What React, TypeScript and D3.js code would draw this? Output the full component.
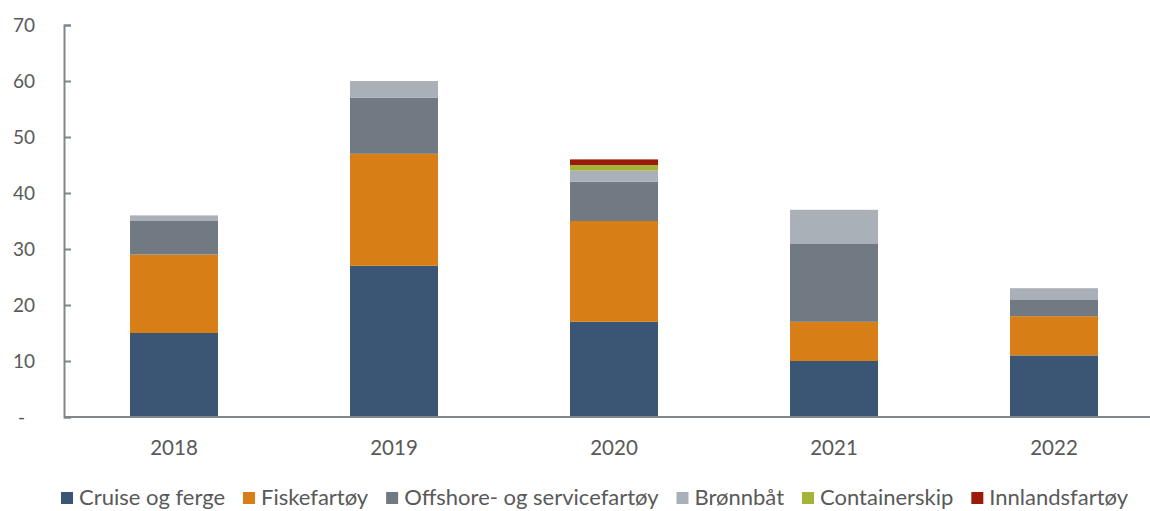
import { useEffect, useRef } from 'react';
import * as d3 from 'd3';

const years = ['2018', '2019', '2020', '2021', '2022'];
const seriesNames = [
  'Cruise og ferge',
  'Fiskefartøy',
  'Offshore- og servicefartøy',
  'Brønnbåt',
  'Containerskip',
  'Innlandsfartøy',
];
const cruise = [15, 27, 17, 10, 11];
const fiske = [14, 20, 18, 7, 7];
const offshore = [6, 10, 7, 14, 3];
const bronnbat = [1, 3, 2, 6, 2];
const container = [0, 0, 1, 0, 0];
const innland = [0, 0, 1, 0, 0];
const yTicks = [0, 10, 20, 30, 40, 50, 60, 70];
const colors = ['#3a5674', '#d77e17', '#717a82', '#a9b0b7', '#a5b33b', '#9b1b0b'];

export default function App() {
  const ref = useRef<SVGSVGElement>(null);

  useEffect(() => {
    const svg = d3.select(ref.current);
    svg.selectAll('*').remove();

    const width = 1150;
    const font = 'Lato, "Open Sans", sans-serif';
    const textColor = '#595959';
    const axisColor = '#7f868c';

    const series = [cruise, fiske, offshore, bronnbat, container, innland];
    const rows = years.map((year, i) => {
      const row: Record<string, number | string> = { year };
      seriesNames.forEach((name, k) => (row[name] = series[k][i]));
      return row;
    });
    const stacked = d3.stack<any>().keys(seriesNames)(rows);

    const x = d3.scaleBand().domain(years).range([64, 1164]).paddingInner(0.6).paddingOuter(0.3);
    const y = d3.scaleLinear().domain([0, 70]).range([417, 25]);

    const g = svg.append('g');

    // bars
    stacked.forEach((layer, k) => {
      g.append('g')
        .attr('fill', colors[k])
        .selectAll('rect')
        .data(layer.filter((d) => d[1] - d[0] > 0))
        .join('rect')
        .attr('x', (d) => x(d.data.year as string)!)
        .attr('width', x.bandwidth())
        .attr('y', (d) => y(d[1]))
        .attr('height', (d) => y(d[0]) - y(d[1]));
    });

    // y axis
    const yAxis = g.append('g')
      .attr('transform', 'translate(64,0)')
      .call(
        d3.axisLeft(y)
          .tickValues(yTicks)
          .tickSizeInner(-7)
          .tickSizeOuter(-7)
          .tickPadding(29)
          .tickFormat((d) => (d === 0 ? '-' : String(d)))
      );
    yAxis.selectAll('text')
      .attr('fill', textColor)
      .style('font-family', font)
      .style('font-size', '19px');
    yAxis.selectAll<SVGTextElement, number>('.tick text')
      .filter((d) => d === 0)
      .attr('dx', -10);

    // x axis
    const xAxis = g.append('g')
      .attr('transform', 'translate(0,417)')
      .call(d3.axisBottom(x).tickSize(0).tickPadding(23));
    xAxis.select('.domain').remove();
    xAxis.append('line')
      .attr('x1', 64)
      .attr('x2', width)
      .attr('stroke', axisColor)
      .attr('stroke-width', 2);
    xAxis.selectAll('text')
      .attr('fill', textColor)
      .style('font-family', font)
      .style('font-size', '20.5px');

    g.selectAll('.domain').attr('stroke', axisColor).attr('stroke-width', 2);
    yAxis.selectAll('.tick line').attr('stroke', axisColor).attr('stroke-width', 2);

    // legend
    const legend = svg.append('g');
    const items = legend.selectAll('g')
      .data(seriesNames)
      .join('g');
    items.append('rect')
      .attr('width', 12)
      .attr('height', 12)
      .attr('y', 492)
      .attr('fill', (_, i) => colors[i]);
    items.append('text')
      .attr('x', 18)
      .attr('y', 505)
      .attr('fill', textColor)
      .style('font-family', font)
      .style('font-size', '22px')
      .text((d) => d);

    const widths: number[] = [];
    items.each(function () {
      const t = d3.select(this).select('text').node() as SVGTextElement;
      widths.push(18 + t.getComputedTextLength());
    });
    const left = 61;
    const right = 1128;
    const gap = (right - left - d3.sum(widths)) / (widths.length - 1);
    let cursor = left;
    const positions = widths.map((w) => {
      const p = cursor;
      cursor += w + gap;
      return p;
    });
    items.attr('transform', (_, i) => `translate(${positions[i]},0)`);
  }, []);

  return (
    <svg
      ref={ref}
      width={1150}
      height={511}
      style={{ position: 'absolute', left: 0, top: 0, background: '#fff' }}
    />
  );
}
